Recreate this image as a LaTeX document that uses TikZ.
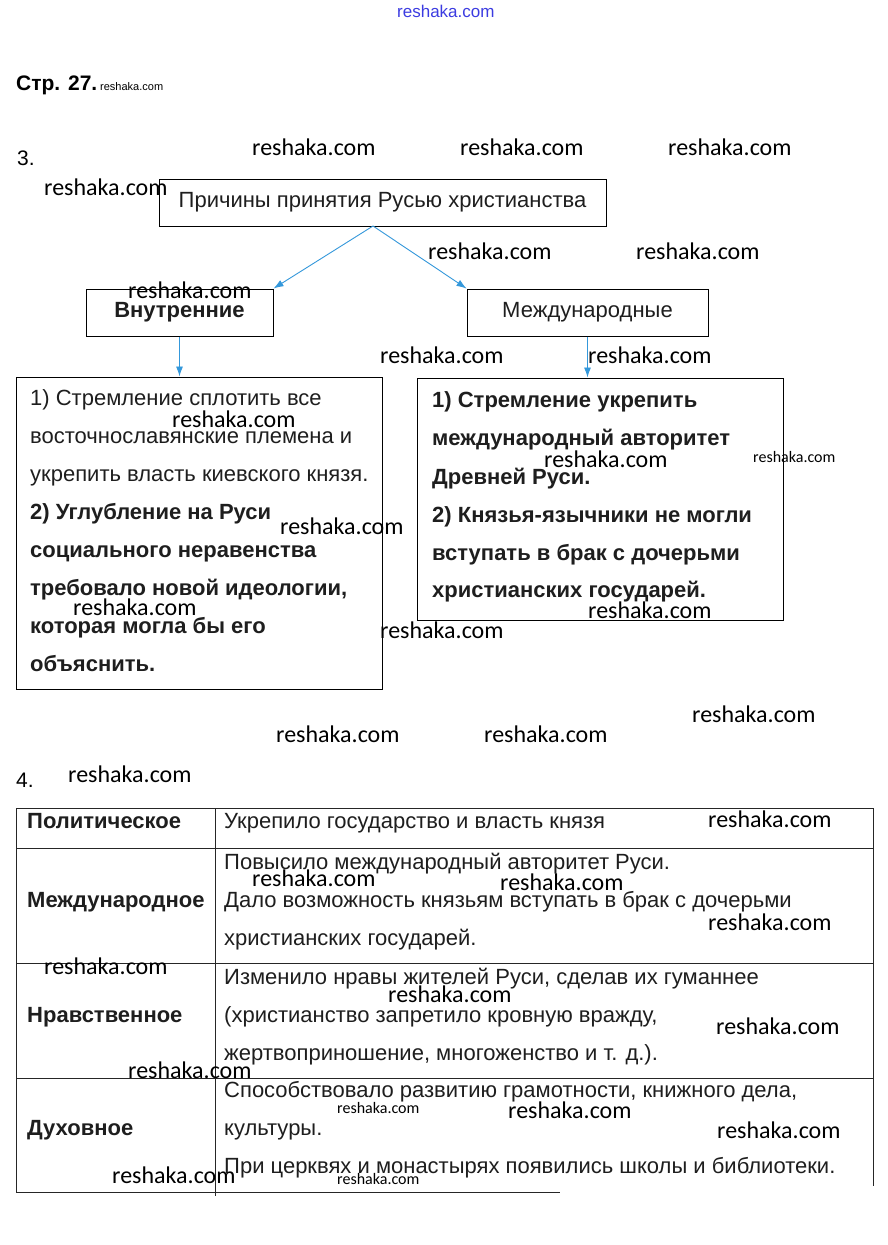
\documentclass[tikz,border=0pt]{standalone}
\usepackage{fontspec}
\setmainfont{Liberation Sans}
\newfontfamily\wmfont{Carlito}
\usetikzlibrary{arrows.meta}
\definecolor{arrowblue}{RGB}{52,152,219}
\definecolor{topblue}{RGB}{60,60,225}
\definecolor{txtc}{RGB}{30,30,30}
\begin{document}
\begin{tikzpicture}[x=1pt,y=-1pt,
  lbl/.style={anchor=base west, inner sep=0pt, text=txtc, font=\fontsize{22}{26}\selectfont},
  blbl/.style={anchor=base west, inner sep=0pt, text=txtc, font=\bfseries\fontsize{22}{26}\selectfont},
  wm/.style={anchor=base west, inner sep=0pt, font=\wmfont\fontsize{24}{28}\selectfont},
  wms/.style={anchor=base west, inner sep=0pt, font=\wmfont\fontsize{16}{19}\selectfont},
  box/.style={draw=black, line width=1pt, inner sep=0pt, text=txtc},
  conn/.style={draw=arrowblue, line width=0.9pt, -{Latex[length=10pt,width=7pt]}},
  grid/.style={draw=black!85, line width=1pt}
]
\useasboundingbox (0,0) rectangle (887,1245);
\fill[white] (0,0) rectangle (887,1245);

% header
\node[anchor=base west, inner sep=0pt, text=topblue, font=\fontsize{17}{20}\selectfont] (wtop) at (397,17) {reshaka.com};
\node[anchor=base west, inner sep=0pt, font=\bfseries\fontsize{21}{25}\selectfont] (page) at (16,90) {Стр. 27.};
\node[anchor=base west, inner sep=0pt, font=\fontsize{11}{13}\selectfont] (wpage) at (100,90) {reshaka.com};
\node[anchor=base west, inner sep=0pt, font=\fontsize{21}{25}\selectfont] (n3) at (17,165) {3.};

% diagram
\node[box, minimum width=447pt, minimum height=47pt, font=\fontsize{22}{26}\selectfont] (top) at (382.5,202.5) {Причины принятия Русью христианства};
\node[box, minimum width=187pt, minimum height=47pt, font=\bfseries\fontsize{22}{26}\selectfont] (inner) at (179.5,312.5) {Внутренние};
\node[box, minimum width=241pt, minimum height=47pt, font=\fontsize{22}{26}\selectfont] (intl) at (587.5,312.5) {Международные};
\node[box, minimum width=366pt, minimum height=312pt] (leftbox) at (199,533) {};
\node[box, minimum width=366pt, minimum height=242pt] (rightbox) at (600,499) {};

\coordinate (split) at (373,226);
\draw[conn] (split) -- (inner.north east);
\draw[conn] (split) -- (intl.north west);
\draw[conn] (inner.south) -- (inner.south |- leftbox.north);
\draw[conn] (intl.south) -- (intl.south |- rightbox.north);

\node[lbl] (l1) at (30,405.5) {1) Стремление сплотить все};
\node[lbl] (l2) at (30,443.5) {восточнославянские племена и};
\node[lbl] (l3) at (30,481.5) {укрепить власть киевского князя.};
\node[blbl] (l4) at (30,519.5) {2) Углубление на Руси};
\node[blbl] (l5) at (30,557.5) {социального неравенства};
\node[blbl] (l6) at (30,595.5) {требовало новой идеологии,};
\node[blbl] (l7) at (30,633.5) {которая могла бы его};
\node[blbl] (l8) at (30,671.5) {объяснить.};

\node[blbl] (r1) at (432,407) {1) Стремление укрепить};
\node[blbl] (r2) at (432,445) {международный авторитет};
\node[blbl] (r3) at (432,484) {Древней Руси.};
\node[blbl] (r4) at (432,522) {2) Князья-язычники не могли};
\node[blbl] (r5) at (432,560) {вступать в брак с дочерьми};
\node[blbl] (r6) at (432,597) {христианских государей.};

% table
\node[anchor=base west, inner sep=0pt, font=\fontsize{21}{25}\selectfont] (n4) at (16,787) {4.};
\draw[grid] (16,808) -- (873,808);
\draw[grid] (16,848) -- (873,848);
\draw[grid] (16,963) -- (873,963);
\draw[grid] (16,1078) -- (873,1078);
\draw[grid] (16,1192) -- (560,1192);
\draw[grid] (16,808) -- (16,1192);
\draw[grid] (215,808) -- (215,1196);
\draw[grid] (873,808) -- (873,1186);

\node[blbl] (c1) at (27,828) {Политическое};
\node[blbl] (c2) at (27,907) {Международное};
\node[blbl] (c3) at (27,1022) {Нравственное};
\node[blbl] (c4) at (27,1135) {Духовное};

\node[lbl] (d1) at (224,828) {Укрепило государство и власть князя};
\node[lbl] (d2) at (224,869) {Повысило международный авторитет Руси.};
\node[lbl] (d3) at (224,907) {Дало возможность князьям вступать в брак с дочерьми};
\node[lbl] (d4) at (224,945) {христианских государей.};
\node[lbl] (d5) at (224,984) {Изменило нравы жителей Руси, сделав их гуманнее};
\node[lbl] (d6) at (224,1022) {(христианство запретило кровную вражду,};
\node[lbl] (d7) at (224,1060) {жертвоприношение, многоженство и т. д.).};
\node[lbl] (d8) at (224,1097) {Способствовало развитию грамотности, книжного дела,};
\node[lbl] (d9) at (224,1135) {культуры.};
\node[lbl] (d10) at (224,1173) {При церквях и монастырях появились школы и библиотеки.};

% watermarks
\node[wm] (w3) at (252,155) {reshaka.com};
\node[wm] (w4) at (460,155) {reshaka.com};
\node[wm] (w5) at (668,155) {reshaka.com};
\node[wm] (w6) at (44,195) {reshaka.com};
\node[wm] (w7) at (428,259) {reshaka.com};
\node[wm] (w8) at (636,259) {reshaka.com};
\node[wm] (w9) at (128,298) {reshaka.com};
\node[wm] (w10) at (380,363) {reshaka.com};
\node[wm] (w11) at (588,363) {reshaka.com};
\node[wm] (w12) at (172,427) {reshaka.com};
\node[wms] (w13) at (753,462) {reshaka.com};
\node[wm] (w14) at (544,467) {reshaka.com};
\node[wm] (w15) at (280,534) {reshaka.com};
\node[wm] (w16) at (73,615) {reshaka.com};
\node[wm] (w17) at (588,618) {reshaka.com};
\node[wm] (w18) at (380,638) {reshaka.com};
\node[wm] (w19) at (692,722) {reshaka.com};
\node[wm] (w20) at (276,742) {reshaka.com};
\node[wm] (w21) at (484,742) {reshaka.com};
\node[wm] (w22) at (68,782) {reshaka.com};
\node[wm] (w23) at (708,827) {reshaka.com};
\node[wm] (w24) at (252,886) {reshaka.com};
\node[wm] (w25) at (500,890) {reshaka.com};
\node[wm] (w26) at (708,930) {reshaka.com};
\node[wm] (w27) at (44,974) {reshaka.com};
\node[wm] (w28) at (388,1002) {reshaka.com};
\node[wm] (w29) at (716,1034) {reshaka.com};
\node[wm] (w30) at (128,1078) {reshaka.com};
\node[wms] (w31) at (337,1113) {reshaka.com};
\node[wm] (w32) at (508,1118) {reshaka.com};
\node[wm] (w33) at (717,1138) {reshaka.com};
\node[wm] (w34) at (112,1183) {reshaka.com};
\node[wms] (w35) at (337,1184) {reshaka.com};
\end{tikzpicture}
\end{document}
